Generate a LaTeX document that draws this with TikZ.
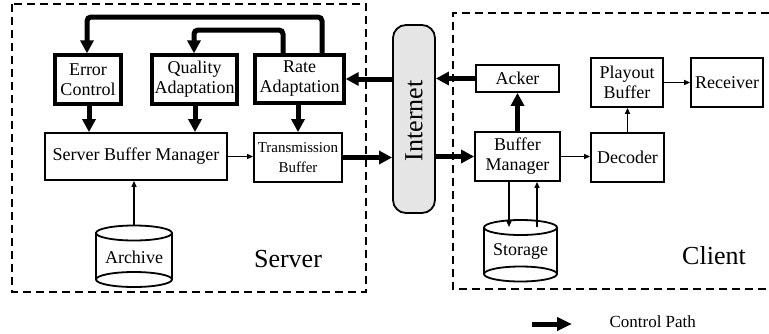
\documentclass[tikz,border=0pt]{standalone}
\usepackage{fontspec}
\setmainfont{Liberation Serif}
\usetikzlibrary{arrows.meta}
\begin{document}
\begin{tikzpicture}[x=1pt,y=-1pt,
  base/.style={draw, inner sep=0pt, align=center, font=\fontsize{18}{20}\selectfont},
  thickbox/.style={base, line width=3.3pt},
  thinbox/.style={base, line width=1.8pt},
  ctrl/.style={line width=5pt, -{Triangle[length=13pt,width=13pt]}},
  data/.style={line width=1.3pt, -{Triangle[length=6pt,width=5pt]}},
  region/.style={line width=1.8pt, dash pattern=on 8pt off 5pt},
  bigtext/.style={font=\fontsize{26}{28}\selectfont},
  txt/.style={font=\fontsize{18}{20}\selectfont},
  cyl/.style={line width=1.8pt},
]
\useasboundingbox (0,0) rectangle (769,333);

% regions
\draw[region] (12,4) rectangle (366,292);
\draw[region] (769,13) -- (453,13) -- (453,289) -- (769,289);

% server boxes
\node[thickbox, minimum width=66pt, minimum height=49pt] (ec) at (88,79.5) {Error\\Control};
\node[thickbox, minimum width=85pt, minimum height=49pt] (qa) at (194.5,79.5) {Quality\\Adaptation};
\node[thickbox, minimum width=89pt, minimum height=48pt] (ra) at (299.5,79) {Rate\\Adaptation};
\node[thinbox, minimum width=182pt, minimum height=47pt] (sbm) at (136,156.5) {Server Buffer Manager};
\node[thinbox, minimum width=88pt, minimum height=49pt, font=\fontsize{15}{20}\selectfont] (tb) at (298,157.5) {Transmission\\Buffer};

% internet
\node[draw, line width=1.8pt, fill=black!10, rounded corners=13pt, minimum width=42pt, minimum height=188pt, inner sep=0pt] (inet) at (414,119) {};
\node[bigtext, rotate=90] (inettext) at (414,121) {Internet};

% client boxes
\node[thinbox, minimum width=83pt, minimum height=27pt] (acker) at (517.5,78.5) {Acker};
\node[thinbox, minimum width=72pt, minimum height=49pt] (pb) at (627,82.5) {Playout\\Buffer};
\node[thinbox, minimum width=72pt, minimum height=49pt] (rcv) at (727,82.5) {Receiver};
\node[thinbox, minimum width=85pt, minimum height=49pt] (bm) at (517.5,156.5) {Buffer\\Manager};
\node[thinbox, minimum width=73pt, minimum height=49pt] (dec) at (627.5,157.5) {Decoder};

% archive cylinder
\draw[cyl] (134,233) ellipse [x radius=38pt, y radius=7.5pt];
\draw[cyl] (134,279.5) ellipse [x radius=38pt, y radius=7.5pt];
\draw[cyl] (96,233) -- (96,279.5) (172,233) -- (172,279.5);
\node[txt] (arch) at (134,257) {Archive};
\coordinate (archtop) at (134,225.5);

% storage cylinder
\draw[cyl] (520.5,227.5) ellipse [x radius=36.5pt, y radius=7.5pt];
\draw[cyl] (520.5,274) ellipse [x radius=36.5pt, y radius=7.5pt];
\draw[cyl] (484,227.5) -- (484,274) (557,227.5) -- (557,274);
\node[txt] (stor) at (520.5,251) {Storage};
\coordinate (stin) at (509,227);
\coordinate (stout) at (537,227);

% labels
\node[bigtext] (server) at (288,259) {Server};
\node[bigtext] (client) at (714,256) {Client};

% control loops
\draw[ctrl, rounded corners=4pt] (322,0 |- ra.north) -- (322,17) -- (87,17) -- (87,0 |- ec.north);
\draw[ctrl, rounded corners=4pt] (283,0 |- ra.north) -- (283,30) -- (194,30) -- (194,0 |- qa.north);

% control arrows
\draw[ctrl] (89,0 |- ec.south) -- (89,0 |- sbm.north);
\draw[ctrl] (195,0 |- qa.south) -- (195,0 |- sbm.north);
\draw[ctrl] (298,0 |- ra.south) -- (298,0 |- tb.north);
\draw[ctrl] (tb.east) -- (tb.east -| inet.west);
\draw[ctrl] (inet.west |- ra.east) -- (ra.east);
\draw[ctrl] (acker.west) -- (acker.west -| inet.east);
\draw[ctrl] (inet.east |- bm.west) -- (bm.west);
\draw[ctrl] (bm.north) -- (acker.south);

% data arrows
\draw[data] (sbm.east) -- (sbm.east -| tb.west);
\draw[data] (archtop) -- (archtop |- sbm.south);
\draw[data] (bm.east) -- (bm.east -| dec.west);
\draw[data] (dec.north) -- (dec.north |- pb.south);
\draw[data] (pb.east) -- (rcv.west);
\draw[data] (509,0 |- bm.south) -- (stin);
\draw[data] (stout) -- (537,0 |- bm.south);

% legend
\coordinate (lgA) at (532,324);
\coordinate (lgB) at (572,324);
\draw[line width=5pt, -{Triangle[length=15pt,width=13pt]}] (lgA) -- (lgB);
\node[anchor=west, font=\fontsize{17}{19}\selectfont] (lgtext) at (606,322) {Control Path};
\end{tikzpicture}
\end{document}
